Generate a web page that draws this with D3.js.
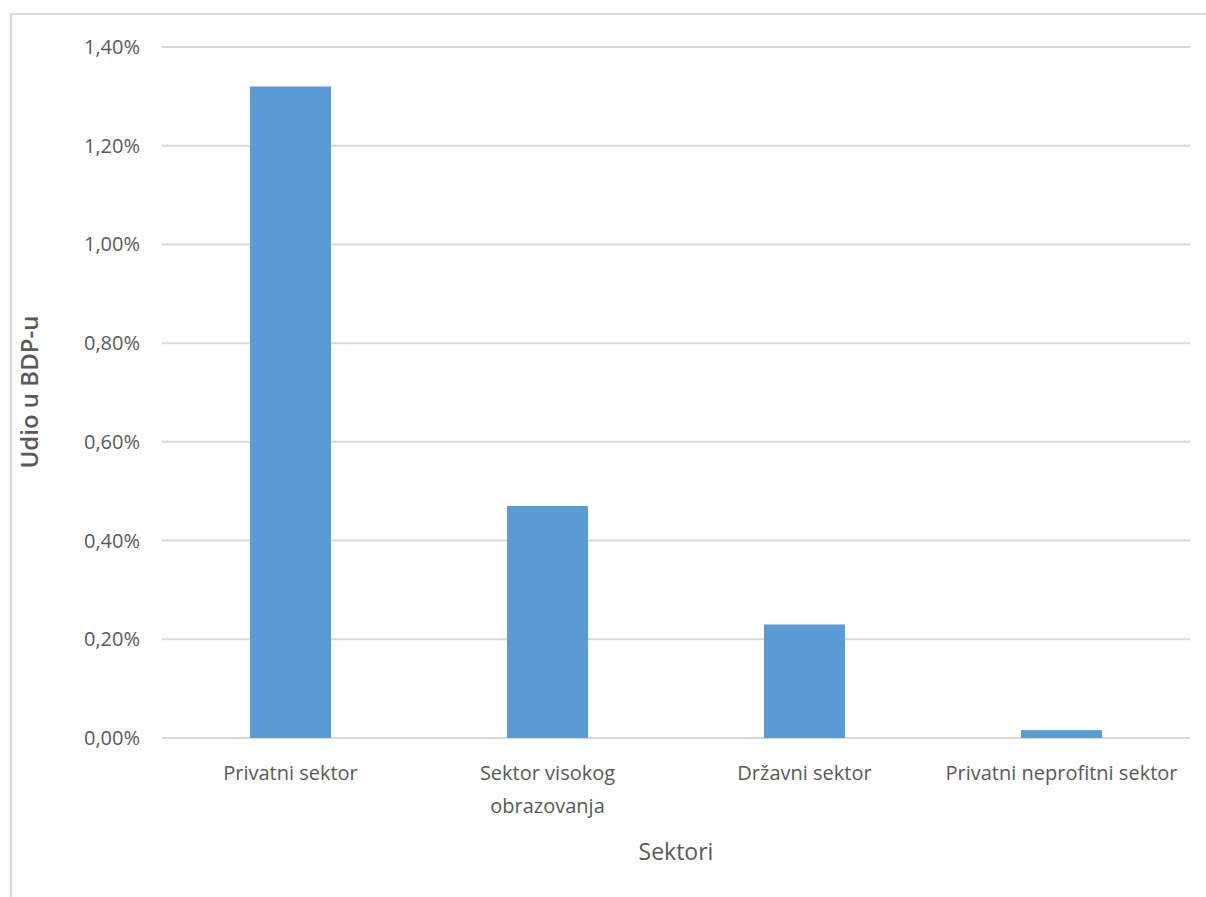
<!DOCTYPE html>
<html>
<head>
<meta charset="utf-8">
<script src="https://cdn.jsdelivr.net/npm/d3@7"></script>
<style>
  body { margin: 0; background: #fff; }
  svg { display: block; }
</style>
</head>
<body>
<svg width="1206" height="897"></svg>
<script>
const sectors = [
  ["Privatni sektor"],
  ["Sektor visokog", "obrazovanja"],
  ["Državni sektor"],
  ["Privatni neprofitni sektor"]
];
const shares = [1.32, 0.47, 0.23, 0.016];
const yTicks = [0, 0.2, 0.4, 0.6, 0.8, 1.0, 1.2, 1.4];

const svg = d3.select("svg");
const font = "'Open Sans', 'Noto Sans', sans-serif";
const gray = "#595959";

// chart frame (cropped at right and bottom in the original)
svg.append("path")
  .attr("d", "M11,897 V14 H1206")
  .attr("fill", "none")
  .attr("stroke", "#d9d9d9")
  .attr("stroke-width", 2);

const plotLeft = 162, plotRight = 1190, plotTop = 47, plotBottom = 738;

const x = d3.scaleBand()
  .domain(d3.range(sectors.length))
  .range([plotLeft, plotRight])
  .paddingInner(0.685)
  .paddingOuter(0.3425);

const y = d3.scaleLinear()
  .domain([0, 1.4])
  .range([plotBottom, plotTop]);

const fmt = function (d) {
  return d.toFixed(2).replace(".", ",") + "%";
};

const g = svg.append("g");

g.selectAll(".grid")
  .data(yTicks)
  .enter()
  .append("line")
  .attr("x1", plotLeft)
  .attr("x2", plotRight)
  .attr("y1", function (d) { return y(d); })
  .attr("y2", function (d) { return y(d); })
  .attr("stroke", "#d9d9d9")
  .attr("stroke-width", 2);

g.selectAll(".ylab")
  .data(yTicks)
  .enter()
  .append("text")
  .attr("x", 140)
  .attr("y", function (d) { return y(d); })
  .attr("dy", "0.35em")
  .attr("text-anchor", "end")
  .attr("font-family", font)
  .attr("font-size", 20)
  .attr("fill", gray)
  .text(fmt);

g.selectAll(".bar")
  .data(shares)
  .enter()
  .append("rect")
  .attr("x", function (d, i) { return x(i); })
  .attr("width", x.bandwidth())
  .attr("y", function (d) { return y(d); })
  .attr("height", function (d) { return y(0) - y(d); })
  .attr("fill", "#5b9bd5");

const xl = g.selectAll(".xlab")
  .data(sectors)
  .enter()
  .append("text")
  .attr("x", function (d, i) { return x(i) + x.bandwidth() / 2; })
  .attr("y", 780)
  .attr("text-anchor", "middle")
  .attr("font-family", font)
  .attr("font-size", 20)
  .attr("fill", gray);

xl.selectAll("tspan")
  .data(function (d) { return d; })
  .enter()
  .append("tspan")
  .attr("x", function () { return d3.select(this.parentNode).attr("x"); })
  .attr("dy", function (d, i) { return i === 0 ? 0 : 33; })
  .text(function (d) { return d; });

svg.append("text")
  .attr("x", 676)
  .attr("y", 860)
  .attr("text-anchor", "middle")
  .attr("font-family", font)
  .attr("font-size", 23)
  .attr("fill", gray)
  .text("Sektori");

svg.append("text")
  .attr("transform", "translate(38,392) rotate(-90)")
  .attr("text-anchor", "middle")
  .attr("font-family", font)
  .attr("font-size", 24)
  .attr("font-weight", 600)
  .attr("fill", gray)
  .text("Udio u BDP-u");
</script>
</body>
</html>
